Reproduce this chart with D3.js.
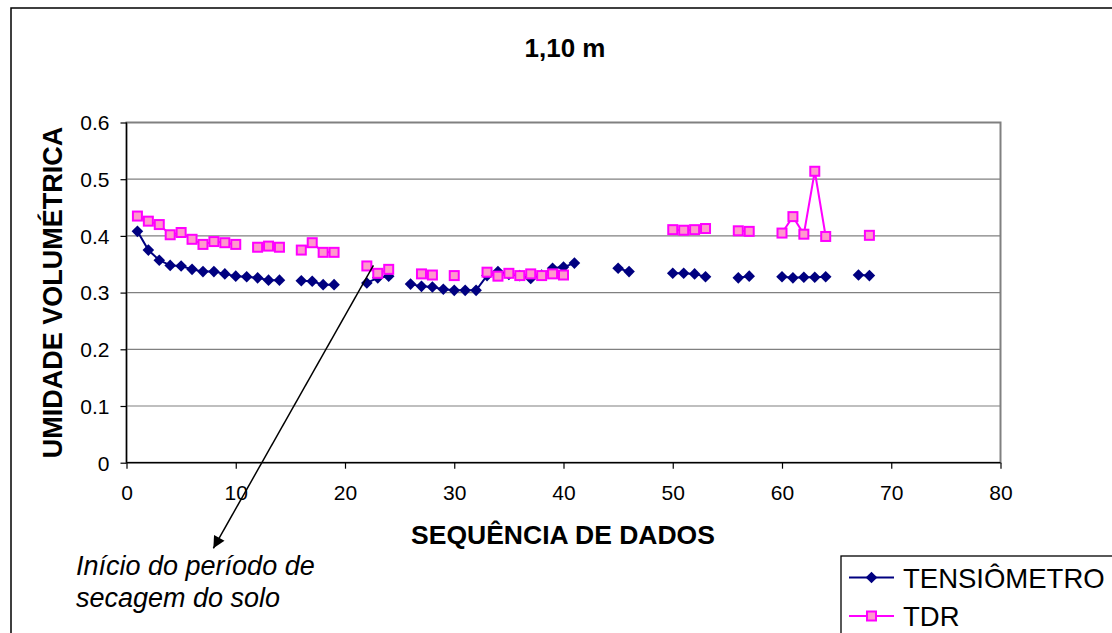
<!DOCTYPE html>
<html><head><meta charset="utf-8">
<script src="https://cdn.jsdelivr.net/npm/d3@7"></script>
<style>
html,body{margin:0;padding:0;background:#fff;}
svg{display:block;font-family:"Liberation Sans",Arial,sans-serif;}
</style></head>
<body>
<svg id="c" width="1112" height="633"></svg>
<script>
const title = "1,10 m";
const xLabel = "SEQUÊNCIA DE DADOS";
const yLabel = "UMIDADE VOLUMÉTRICA";
const seriesNames = ["TENSIÔMETRO", "TDR"];
const xTicks = [0, 10, 20, 30, 40, 50, 60, 70, 80];
const yTicks = [0, 0.1, 0.2, 0.3, 0.4, 0.5, 0.6];
const yTickLabels = ["0", "0.1", "0.2", "0.3", "0.4", "0.5", "0.6"];
const seq = d3.range(1, 69);
const tensiometro = [
  0.408, 0.375, 0.357, 0.348, 0.347, 0.341, 0.337, 0.337, 0.333, 0.329,
  0.328, 0.326, 0.322, 0.322, null, 0.321, 0.320, 0.314, 0.314, null,
  null, 0.317, 0.326, 0.329, null, 0.315, 0.311, 0.310, 0.306, 0.304,
  0.304, 0.304, 0.330, 0.337, 0.332, 0.330, 0.325, 0.331, 0.343, 0.345,
  0.352, null, null, null, 0.343, 0.337, null, null, null, 0.334,
  0.334, 0.333, 0.328, null, null, 0.326, 0.329, null, null, 0.328,
  0.326, 0.327, 0.327, 0.328, null, null, 0.331, 0.330
];
const tdr = [
  0.435, 0.426, 0.420, 0.402, 0.406, 0.394, 0.385, 0.390, 0.388, 0.385,
  null, 0.380, 0.382, 0.380, null, 0.375, 0.388, 0.371, 0.371, null,
  null, 0.347, 0.334, 0.341, null, null, 0.333, 0.331, null, 0.330,
  null, null, 0.336, 0.329, 0.334, 0.330, 0.333, 0.330, 0.333, 0.331,
  null, null, null, null, null, null, null, null, null, 0.411,
  0.410, 0.411, 0.413, null, null, 0.409, 0.408, null, null, 0.405,
  0.434, 0.403, 0.514, 0.399, null, null, null, 0.401
];
const annotationLines = ["Início do período de", "secagem do solo"];
// arrow in data coordinates: from near point 22-23 to below the axis
const arrowFrom = {x: 22.6, y: 0.348};
const arrowTo = {x: 7.95, y: -0.151};

const svg = d3.select("#c");
const L = 126.5, R = 1000.5, T = 122.5, B = 462.7;
const x = d3.scaleLinear().domain([0, 80]).range([L, R]);
const y = d3.scaleLinear().domain([0, 0.6]).range([B, T]);

// outer frame
svg.append("rect").attr("x", 11).attr("y", 8).attr("width", 1130).attr("height", 660)
  .attr("fill", "#fff").attr("stroke", "#000").attr("stroke-width", 1.5);

// plot area border
svg.append("rect").attr("x", L).attr("y", T).attr("width", R - L).attr("height", B - T)
  .attr("fill", "#fff").attr("stroke", "#808080").attr("stroke-width", 2);

// gridlines
svg.append("g").selectAll("line").data(yTicks.filter(d => d > 0 && d < 0.6)).join("line")
  .attr("x1", L).attr("x2", R).attr("y1", d => y(d)).attr("y2", d => y(d))
  .attr("stroke", "#808080").attr("stroke-width", 1.2);

// axes
const yAxis = d3.axisLeft(y).tickValues(yTicks).tickFormat((d, i) => yTickLabels[i])
  .tickSize(6).tickPadding(11);
const gy = svg.append("g").attr("transform", `translate(${L},0)`).call(yAxis);
const xAxis = d3.axisBottom(x).tickValues(xTicks).tickFormat(d3.format("d"))
  .tickSize(6).tickPadding(16);
const gx = svg.append("g").attr("transform", `translate(0,${B})`).call(xAxis);
[gx, gy].forEach(g => {
  g.select(".domain").attr("stroke", "#000").attr("stroke-width", 1.3);
  g.selectAll(".tick line").attr("stroke", "#000").attr("stroke-width", 1.2);
  g.selectAll(".tick text").attr("font-family", "Liberation Sans, Arial, sans-serif")
    .attr("font-size", 21).attr("fill", "#000");
});
gy.select(".domain").attr("d", `M0,${B}V${T}`);
gx.select(".domain").attr("d", `M${L},0H${R}`);
gy.selectAll(".tick text").attr("dy", "0.35em");

// series
const tensData = seq.map((s, i) => ({x: s, y: tensiometro[i]}));
const tdrData = seq.map((s, i) => ({x: s, y: tdr[i]}));
const line = d3.line().defined(d => d.y !== null).x(d => x(d.x)).y(d => y(d.y));

svg.append("path").datum(tensData).attr("d", line)
  .attr("fill", "none").attr("stroke", "#000080").attr("stroke-width", 2);
const dia = 5.8;
svg.append("g").selectAll("path").data(tensData.filter(d => d.y !== null)).join("path")
  .attr("d", d => `M${x(d.x)},${y(d.y) - dia}L${x(d.x) + dia},${y(d.y)}L${x(d.x)},${y(d.y) + dia}L${x(d.x) - dia},${y(d.y)}Z`)
  .attr("fill", "#000080");

svg.append("path").datum(tdrData).attr("d", line)
  .attr("fill", "none").attr("stroke", "#FF00FF").attr("stroke-width", 2);
const sq = 4.5;
svg.append("g").selectAll("rect").data(tdrData.filter(d => d.y !== null)).join("rect")
  .attr("x", d => x(d.x) - sq).attr("y", d => y(d.y) - sq)
  .attr("width", sq * 2).attr("height", sq * 2)
  .attr("fill", "#FF99CC").attr("stroke", "#FF00FF").attr("stroke-width", 2);

// title & labels
svg.append("text").attr("x", 565).attr("y", 57).attr("text-anchor", "middle")
  .attr("font-size", 26).attr("font-weight", "bold").text(title);
svg.append("text").attr("x", 563).attr("y", 544).attr("text-anchor", "middle")
  .attr("font-size", 26.5).attr("font-weight", "bold").text(xLabel);
svg.append("text").attr("transform", `translate(62,${(T + B) / 2}) rotate(-90)`)
  .attr("text-anchor", "middle").attr("font-size", 27).attr("font-weight", "bold").text(yLabel);

// annotation arrow
svg.append("defs").append("marker").attr("id", "arr").attr("viewBox", "0 0 10 10")
  .attr("refX", 10).attr("refY", 5).attr("markerWidth", 14).attr("markerHeight", 12)
  .attr("markerUnits", "userSpaceOnUse").attr("orient", "auto")
  .append("path").attr("d", "M0,0L10,5L0,10Z").attr("fill", "#000");
svg.append("line").attr("x1", x(arrowFrom.x)).attr("y1", y(arrowFrom.y))
  .attr("x2", x(arrowTo.x)).attr("y2", y(arrowTo.y))
  .attr("stroke", "#000").attr("stroke-width", 1.5).attr("marker-end", "url(#arr)");
svg.append("g").selectAll("text").data(annotationLines).join("text")
  .attr("x", 76).attr("y", (d, i) => 575 + i * 32)
  .attr("font-size", 27).attr("font-style", "italic").text(d => d);

// legend
const lg = svg.append("g");
lg.append("rect").attr("x", 841).attr("y", 556).attr("width", 300).attr("height", 100)
  .attr("fill", "#fff").attr("stroke", "#000").attr("stroke-width", 1.3);
const lrows = [
  {name: seriesNames[0], y: 577.5, color: "#000080"},
  {name: seriesNames[1], y: 616, color: "#FF00FF"}
];
lrows.forEach((r, i) => {
  lg.append("line").attr("x1", 849).attr("x2", 894).attr("y1", r.y).attr("y2", r.y)
    .attr("stroke", r.color).attr("stroke-width", 2);
  if (i === 0) {
    lg.append("path").attr("d", `M871.5,${r.y - dia}L${871.5 + dia},${r.y}L871.5,${r.y + dia}L${871.5 - dia},${r.y}Z`)
      .attr("fill", "#000080");
  } else {
    lg.append("rect").attr("x", 871.5 - sq).attr("y", r.y - sq).attr("width", sq * 2).attr("height", sq * 2)
      .attr("fill", "#FF99CC").attr("stroke", "#FF00FF").attr("stroke-width", 2);
  }
  lg.append("text").attr("x", 903).attr("y", r.y + 10).attr("font-size", 27.5).text(r.name);
});
</script>
</body></html>
